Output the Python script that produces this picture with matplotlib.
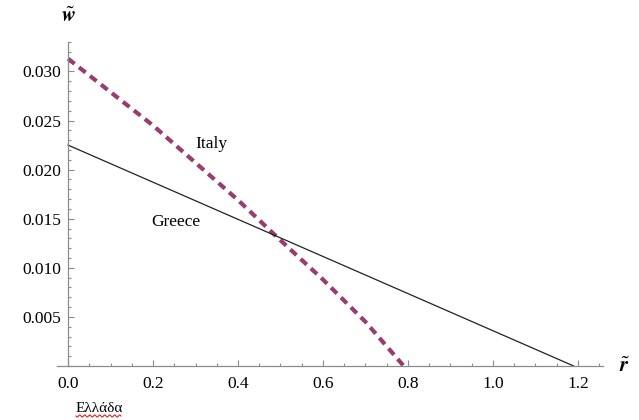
import numpy as np
import matplotlib
matplotlib.use("Agg")
import matplotlib.pyplot as plt
from matplotlib.ticker import MultipleLocator, FormatStrFormatter

# Wage curves w~(r~) for the two countries
italy_r = [0.0, 0.1, 0.2, 0.3, 0.4, 0.5, 0.6, 0.7, 0.79]
italy_w = [0.0313, 0.0279, 0.0245, 0.0207, 0.0169, 0.0128, 0.0088, 0.0045, 0.0]

greece_r = [0.0, 1.19]
greece_w = [0.0225, 0.0]

x_ticks = [0.0, 0.2, 0.4, 0.6, 0.8, 1.0, 1.2]
y_ticks = [0.005, 0.010, 0.015, 0.020, 0.025, 0.030]

SERIF = ['Liberation Serif', 'DejaVu Serif']
plt.rcParams['font.family'] = SERIF
plt.rcParams['mathtext.fontset'] = 'stix'

fig = plt.figure(figsize=(6.39, 4.20), dpi=100)
ax = fig.add_axes([57 / 639, 54 / 420, 546 / 639, 324 / 420])

ax.plot(italy_r, italy_w, color='#983d6f', lw=3.0, dashes=(2.0, 1.35),
        dash_capstyle='butt')
ax.plot(greece_r, greece_w, color='#222222', lw=0.9)

ax.set_xlim(-0.026, 1.259)
ax.set_ylim(0.0, 0.0330)

axis_grey = '#8c8c8c'
for side in ('top', 'right'):
    ax.spines[side].set_visible(False)
ax.spines['left'].set_position(('data', 0))
ax.spines['bottom'].set_position(('data', 0))
for side in ('left', 'bottom'):
    ax.spines[side].set_color(axis_grey)
    ax.spines[side].set_linewidth(0.9)

ax.set_xticks(x_ticks)
ax.set_yticks(y_ticks)
ax.xaxis.set_minor_locator(MultipleLocator(0.05))
ax.yaxis.set_minor_locator(MultipleLocator(0.001))
ax.xaxis.set_major_formatter(FormatStrFormatter('%.1f'))
ax.yaxis.set_major_formatter(FormatStrFormatter('%.3f'))
ax.tick_params(which='both', direction='in', color=axis_grey, width=0.8,
               labelsize=12.5, labelcolor='black')
ax.tick_params(which='major', length=4.5)
ax.tick_params(which='minor', length=2.5)
ax.tick_params(axis='x', which='both', pad=7)
ax.tick_params(axis='y', which='both', pad=5)
for lbl in ax.get_xticklabels() + ax.get_yticklabels():
    lbl.set_family(SERIF)

ax.text(0.30, 0.0222, 'Italy', fontsize=12.5, family=SERIF,
        ha='left', va='baseline')
ax.text(0.195, 0.0143, 'Greece', fontsize=12.5, family=SERIF,
        ha='left', va='baseline')

fig.text(68 / 639, 1 - 17 / 420, r'$\tilde{\boldsymbol{w}}$', fontsize=15,
         ha='center', va='center')
fig.text(625 / 639, 1 - 367 / 420, r'$\tilde{\boldsymbol{r}}$', fontsize=15,
         ha='center', va='center')

# Greek label with a spell-check style squiggle beneath it
fig.text(76 / 639, 1 - 412 / 420, 'Ελλάδα', fontsize=11, family=SERIF,
         ha='left', va='baseline')
sx = np.linspace(76, 121, 120)
sy = 416 + 1.0 * np.sin((sx - 76) / 45 * 2 * np.pi * 9)
fig.add_artist(plt.Line2D(sx / 639, 1 - sy / 420, color='#e0201b', lw=0.8,
                          transform=fig.transFigure))

fig.savefig('out.png', dpi=100)
